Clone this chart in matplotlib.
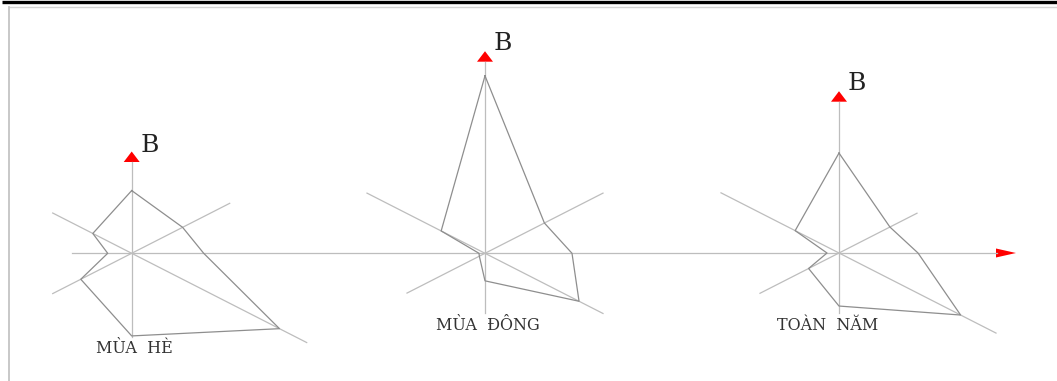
import numpy as np
import matplotlib
matplotlib.use("Agg")
import matplotlib.pyplot as plt
from matplotlib.patches import Polygon

# ── Wind rose data: frequency per direction (N, NE, E, SE, S, SW, W, NW) ──
DIRECTIONS = ["N", "NE", "E", "SE", "S", "SW", "W", "NW"]
summer = [12.3, 7.2, 7.2, 20.9, 16.2, 7.2, 2.4, 5.5]
winter = [34.8, 8.4, 8.7, 13.3, 5.4, 0.8, 0.6, 6.2]
year = [19.6, 7.2, 7.9, 17.2, 10.4, 4.3, 1.2, 6.2]
labels = ["MÙA  HÈ", "MÙA  ĐÔNG", "TOÀN  NĂM"]
north_label = "B"

# ── Layout (pixel space) ──────────────────────────────────────────────
W, H = 1057, 381
SX, SY = 10.0, 5.1          # px per unit, horizontal / vertical
ROSES = [
    dict(values=summer, cx=131.7, cy=253.3, top=162, bottom=337,
         nwse=(-79, 175), swne=(-79, 98), lab=(134, 353), b=(150, 151.5)),
    dict(values=winter, cx=485.0, cy=253.3, top=61.7, bottom=313.3,
         nwse=(-118, 118), swne=(-78, 118), lab=(488, 329.5), b=(503, 50)),
    dict(values=year, cx=839.0, cy=253.0, top=101.7, bottom=313.3,
         nwse=(-118, 157), swne=(-79, 78), lab=(828, 329.5), b=(857, 90)),
]
AXIS_C = "#bdbdbd"
ROSE_C = "#8e8e8e"
RED = "#ff0000"

fig = plt.figure(figsize=(W / 100, H / 100), dpi=100)
ax = fig.add_axes([0, 0, 1, 1])
ax.set_xlim(0, W)
ax.set_ylim(H, 0)
ax.axis("off")

# page frame
ax.plot([2, W], [1.5, 1.5], color="black", lw=2.4, solid_capstyle="butt")
ax.plot([9, W], [6.5, 6.5], color="#d4d4d4", lw=1.0)
ax.plot([9, 9], [6.5, H], color="#c4c4c4", lw=1.3)

# shared west-east axis with arrow
ax.plot([72, 997], [253, 253], color=AXIS_C, lw=0.9)
ax.add_patch(Polygon([[996, 248.5], [996, 257.5], [1016, 253]],
                     closed=True, color=RED, lw=0))

theta = np.deg2rad(90 - 45 * np.arange(len(DIRECTIONS)))

for r, lab in zip(ROSES, labels):
    cx, cy = r["cx"], r["cy"]
    # north axis + arrow
    ax.plot([cx, cx], [r["top"], r["bottom"]], color=AXIS_C, lw=0.9)
    ax.add_patch(Polygon([[cx - 8, r["top"]], [cx + 8, r["top"]],
                          [cx, r["top"] - 10.5]], closed=True, color=RED, lw=0))
    # diagonal axes
    k = SY / SX
    x0, x1 = r["nwse"]
    ax.plot([cx + x0, cx + x1], [cy + x0 * k, cy + x1 * k], color=AXIS_C, lw=0.9)
    x0, x1 = r["swne"]
    ax.plot([cx + x0, cx + x1], [cy - x0 * k, cy - x1 * k], color=AXIS_C, lw=0.9)

    # rose polygon
    v = np.asarray(r["values"])
    px = cx + v * SX * np.cos(theta)
    py = cy - v * SY * np.sin(theta)
    ax.plot(np.append(px, px[0]), np.append(py, py[0]), color=ROSE_C, lw=0.9)

    ax.text(r["b"][0], r["b"][1], north_label, family="DejaVu Serif",
            fontsize=18, ha="center", va="baseline", color="#222222")
    ax.text(r["lab"][0], r["lab"][1], lab, family="DejaVu Serif",
            fontsize=11.5, ha="center", va="baseline", color="#333333")

fig.savefig("out.png", dpi=100)
